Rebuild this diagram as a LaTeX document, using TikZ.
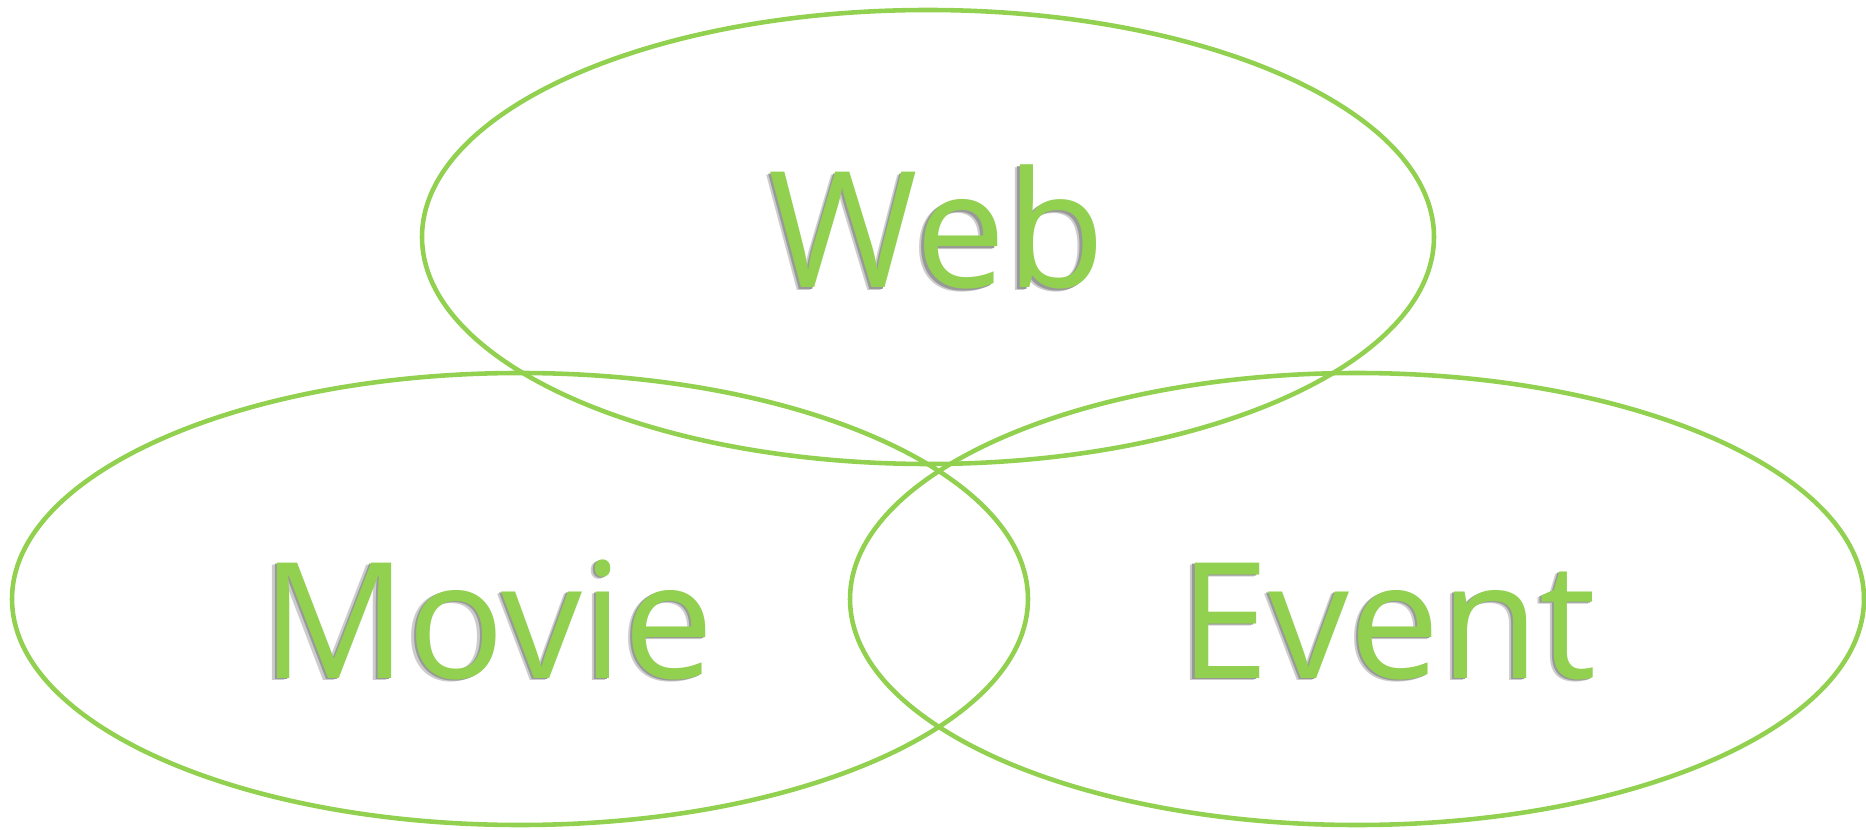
\documentclass[tikz,border=0pt]{standalone}
\usepackage{fontspec}
\setmainfont{Open Sans}
\usepackage{tikz}
\definecolor{vennGreen}{RGB}{146,208,80}
\newcommand\shadowed[1]{%
  \rlap{\kern-2.6pt\raisebox{-1.2pt}{\textcolor{black!20}{#1}}}%
  \rlap{\kern-1.4pt\raisebox{-0.6pt}{\textcolor{black!40}{#1}}}#1}

\begin{document}
\begin{tikzpicture}[x=0.02cm,y=0.02cm,
    setring/.style={draw=vennGreen,line width=2.6pt},
    setname/.style={anchor=base,inner sep=0pt,text=vennGreen,font=\fontsize{92}{100}\selectfont}]
  \useasboundingbox (0,0) rectangle (1866,829);
  \draw[setring] (928,592) ellipse [x radius=506,y radius=227];
  \draw[setring] (520,230) ellipse [x radius=508,y radius=226];
  \draw[setring] (1357,230) ellipse [x radius=507,y radius=226];
  \node[setname] (web) at (937,541) {\shadowed{Web}};
  \node[setname] (movie) at (488,151) {\shadowed{Movie}};
  \node[setname] (event) at (1388,151) {\shadowed{Event}};
\end{tikzpicture}
\end{document}
